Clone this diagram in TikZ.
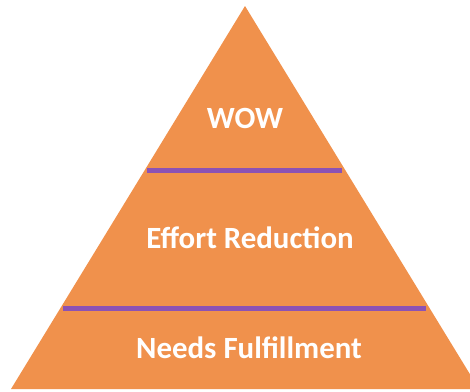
\documentclass[tikz,border=0pt]{standalone}
\usepackage{fontspec}
\setmainfont{Carlito}
\definecolor{pyramid}{RGB}{240,145,76}
\definecolor{divider}{RGB}{140,82,180}

\begin{document}
\begin{tikzpicture}[x=1bp,y=-1bp,
  level/.style={white, font=\fontsize{31}{35}\selectfont\bfseries},
  sep/.style={line width=5bp, divider}]
\useasboundingbox (0,0) rectangle (470,391);
\clip (0,0) rectangle (470,391);
\fill[pyramid](11,389)--(245,6)--(479,389)--cycle;

 \draw[sep](147,170)--(342,170);
 \draw[sep](63,308)--(426,308);

 \node[level] at (245, 118)   (wow) {WOW};
 \node[level] at (250, 238)   (effort) {Effort Reduction};
 \node[level] at (249, 348)   (needs) {Needs Fulfillment};

 \end{tikzpicture}
\end{document}
